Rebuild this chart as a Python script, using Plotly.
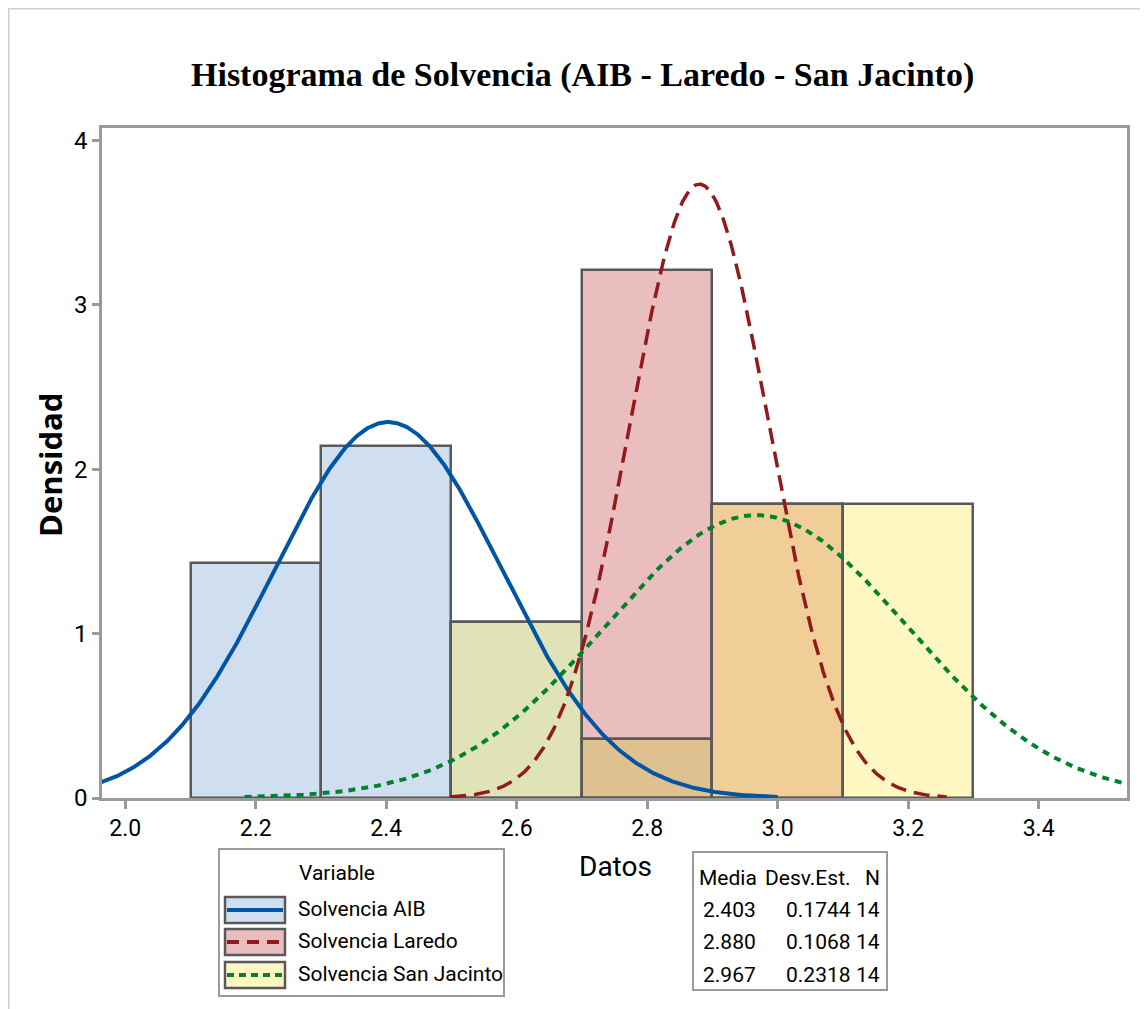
import numpy as np
import plotly.graph_objects as go

# ---------------- data ----------------
series_names = ["Solvencia AIB", "Solvencia Laredo", "Solvencia San Jacinto"]
bin_centers = [2.2, 2.4, 2.6, 2.8, 3.0, 3.2]
bin_width = 0.2
dens_aib = [1.429, 2.143, 1.071, 0.357, 0.0, 0.0]
dens_laredo = [0.0, 0.0, 0.0, 3.214, 1.786, 0.0]
dens_sanjacinto = [0.0, 0.0, 1.071, 0.357, 1.786, 1.786]

means = [2.403, 2.880, 2.967]
stdevs = [0.1744, 0.1068, 0.2318]
counts = [14, 14, 14]
curve_start = [1.96, 2.498, 2.183]
curve_end = [3.0, 3.259, 3.54]

x_ticks = [2.0, 2.2, 2.4, 2.6, 2.8, 3.0, 3.2, 3.4]
x_tick_labels = ["2.0", "2.2", "2.4", "2.6", "2.8", "3.0", "3.2", "3.4"]
y_ticks = [0, 1, 2, 3, 4]
y_tick_labels = ["0", "1", "2", "3", "4"]

# ---------------- styles ----------------
bar_fills = ["rgba(128,168,212,0.37)", "rgba(198,76,79,0.37)", "rgba(252,233,87,0.37)"]
swatch_fills = ["#D0DFEF", "#EABDBE", "#FEF7C1"]
line_colors = ["#0055A5", "#921A1D", "#00822B"]
line_dash = ["solid", "16px,8px", "7px,6px"]
line_width = [4, 3.5, 4]
edge = "#595959"
axis_grey = "#9A9A9A"
SANS = "Roboto, Liberation Sans, sans-serif"

OFF = 8  # page body margin
W, H = 1140, 1001
L, R, T, B = 102 - OFF, 21, 128 - OFF, 211
PW, PH = W - L - R, H - T - B


def px(x):
    # x in reference-page pixels -> paper fraction
    return (x - OFF - L) / PW


def py(y):
    return (H - B - (y - OFF)) / PH


fig = go.Figure()

dens_all = [dens_aib, dens_laredo, dens_sanjacinto]
for i, dens in enumerate(dens_all):
    xs = [c for c, d in zip(bin_centers, dens) if d > 0]
    ys = [d for d in dens if d > 0]
    fig.add_trace(go.Bar(
        x=xs, y=ys, width=bin_width, name=series_names[i],
        marker=dict(color=bar_fills[i], line=dict(color=edge, width=2.5)),
        showlegend=False, hoverinfo="skip"))

for i in range(3):
    xs = np.linspace(curve_start[i], curve_end[i], 500)
    ys = np.exp(-0.5 * ((xs - means[i]) / stdevs[i]) ** 2) / (stdevs[i] * np.sqrt(2 * np.pi))
    fig.add_trace(go.Scatter(
        x=xs, y=ys, mode="lines", name=series_names[i],
        line=dict(color=line_colors[i], width=line_width[i], dash=line_dash[i]),
        showlegend=False, hoverinfo="skip"))

shapes = []
annotations = []

# outer frame
shapes.append(dict(type="rect", xref="paper", yref="paper",
                   x0=px(8), x1=px(W + 40), y0=py(H + 40), y1=py(8),
                   line=dict(color="#CFCFCF", width=3), fillcolor="rgba(0,0,0,0)", layer="below"))

# title
annotations.append(dict(text="<b>Histograma de Solvencia (AIB - Laredo - San Jacinto)</b>",
                        xref="paper", yref="paper", x=px(582), y=py(75),
                        xanchor="center", yanchor="middle", showarrow=False,
                        font=dict(family="Liberation Serif, Times New Roman, serif", size=34, color="black")))

# axis titles
annotations.append(dict(text="<b>Densidad</b>", xref="paper", yref="paper",
                        x=px(50), y=py(465), textangle=-90, xanchor="center", yanchor="middle",
                        showarrow=False, font=dict(family="Open Sans, sans-serif", size=31, color="black")))
annotations.append(dict(text="Datos", xref="paper", yref="paper",
                        x=px(615), y=py(866), xanchor="center", yanchor="middle",
                        showarrow=False, font=dict(family=SANS, size=28, color="black")))

# legend box
TXT = 21
shapes.append(dict(type="rect", xref="paper", yref="paper",
                   x0=px(219), x1=px(504), y0=py(996), y1=py(849),
                   line=dict(color=axis_grey, width=2), fillcolor="white"))
annotations.append(dict(text="Variable", xref="paper", yref="paper", x=px(297), y=py(873),
                        xanchor="left", yanchor="middle", showarrow=False,
                        font=dict(family=SANS, size=TXT, color="black")))
legend_rows = [910, 942, 975]
for i, yc in enumerate(legend_rows):
    shapes.append(dict(type="rect", xref="paper", yref="paper",
                       x0=px(225), x1=px(285), y0=py(yc + 13), y1=py(yc - 13),
                       line=dict(color=edge, width=2.5), fillcolor=swatch_fills[i]))
    shapes.append(dict(type="line", xref="paper", yref="paper",
                       x0=px(227), x1=px(283), y0=py(yc), y1=py(yc),
                       line=dict(color=line_colors[i], width=4,
                                 dash=["solid", "12px,8px", "7px,5px"][i])))
    annotations.append(dict(text=series_names[i], xref="paper", yref="paper",
                            x=px(296), y=py(yc - 1), xanchor="left", yanchor="middle",
                            showarrow=False, font=dict(family=SANS, size=TXT, color="black")))

# statistics table
shapes.append(dict(type="rect", xref="paper", yref="paper",
                   x0=px(693), x1=px(887), y0=py(990), y1=py(852),
                   line=dict(color=axis_grey, width=2), fillcolor="white"))
stat_font = dict(family=SANS, size=TXT, color="black")
annotations.append(dict(text="Media", xref="paper", yref="paper", x=px(697), y=py(878),
                        xanchor="left", yanchor="middle", showarrow=False, font=stat_font))
annotations.append(dict(text="Desv.Est.", xref="paper", yref="paper", x=px(853), y=py(878),
                        xanchor="right", yanchor="middle", showarrow=False, font=stat_font))
annotations.append(dict(text="N", xref="paper", yref="paper", x=px(882), y=py(878),
                        xanchor="right", yanchor="middle", showarrow=False, font=stat_font))
stat_rows = [910, 942, 975]
for i, yc in enumerate(stat_rows):
    annotations.append(dict(text=f"{means[i]:.3f}", xref="paper", yref="paper", x=px(758), y=py(yc),
                            xanchor="right", yanchor="middle", showarrow=False, font=stat_font))
    annotations.append(dict(text=f"{stdevs[i]:.4f}", xref="paper", yref="paper", x=px(853), y=py(yc),
                            xanchor="right", yanchor="middle", showarrow=False, font=stat_font))
    annotations.append(dict(text=str(counts[i]), xref="paper", yref="paper", x=px(882), y=py(yc),
                            xanchor="right", yanchor="middle", showarrow=False, font=stat_font))

fig.update_layout(
    width=W, height=H,
    margin=dict(l=L, r=R, t=T, b=B, pad=0),
    paper_bgcolor="white", plot_bgcolor="white",
    barmode="overlay", bargap=0,
    showlegend=False,
    shapes=shapes, annotations=annotations,
    font=dict(family=SANS, color="black"),
)
fig.update_xaxes(range=[1.9643, 3.5355], tickvals=x_ticks, ticktext=x_tick_labels,
                 showline=True, linecolor=axis_grey, linewidth=2.5, mirror=True,
                 ticks="outside", ticklen=8, tickwidth=2.5, tickcolor=axis_grey,
                 showgrid=False, zeroline=False,
                 tickfont=dict(family=SANS, size=23, color="black"))
fig.update_yaxes(range=[0, 4.077], tickvals=y_ticks, ticktext=y_tick_labels,
                 showline=True, linecolor=axis_grey, linewidth=2.5, mirror=True,
                 ticks="outside", ticklen=7, tickwidth=2.5, tickcolor=axis_grey,
                 showgrid=False, zeroline=False,
                 tickfont=dict(family=SANS, size=24, color="black"))

fig.write_html("out.html")
